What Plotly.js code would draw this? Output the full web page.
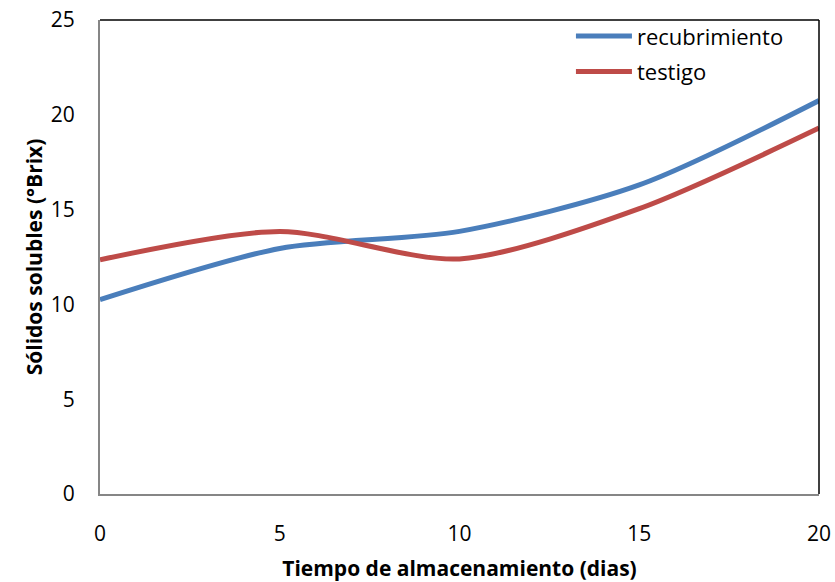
<!DOCTYPE html>
<html>
<head>
<meta charset="utf-8">
<script src="https://cdn.plot.ly/plotly-3.0.1.min.js"></script>
<style>html,body{margin:0;padding:0;background:#fff;}#chart{width:835px;height:582px;}</style>
</head>
<body>
<div id="chart"></div>
<script>
const days = [0, 5, 10, 15, 20];
const recubrimiento = [10.25, 12.95, 13.85, 16.3, 20.75];
const testigo = [12.35, 13.85, 12.4, 15.05, 19.3];
const xTicks = [0, 5, 10, 15, 20];
const yTicks = [0, 5, 10, 15, 20, 25];

const font = "Open Sans, Lato, sans-serif";

const traces = [
  {x: days, y: recubrimiento, name: 'recubrimiento', mode: 'lines',
   line: {color: '#4a7ebb', width: 5, shape: 'spline', smoothing: 0.8}, legend: 'legend'},
  {x: days, y: testigo, name: 'testigo', mode: 'lines',
   line: {color: '#be4b48', width: 5, shape: 'spline', smoothing: 0.8}, legend: 'legend2'}
];

const legendBase = {
  xanchor: 'left', yanchor: 'middle', bgcolor: 'rgba(0,0,0,0)',
  font: {family: font, size: 22, color: '#000'}, itemwidth: 56, tracegroupgap: 0
};

const layout = {
  width: 835, height: 582,
  margin: {l: 100, r: 16, t: 20, b: 88},
  paper_bgcolor: '#fff', plot_bgcolor: '#fff',
  showlegend: true,
  legend: Object.assign({}, legendBase, {x: 0.655, y: 0.966}),
  legend2: Object.assign({}, legendBase, {x: 0.655, y: 0.891}),
  xaxis: {
    range: [0, 20], tickvals: xTicks, ticktext: xTicks.map(String),
    showgrid: false, zeroline: false, showline: true, linecolor: '#868686', linewidth: 2,
    mirror: false, ticks: '', ticklabelstandoff: 20,
    tickfont: {family: font, size: 21, color: '#000'},
    title: {text: 'Tiempo de almacenamiento (dias)', font: {family: font, size: 21, color: '#000', weight: 'bold'}, standoff: 16}
  },
  yaxis: {
    range: [0, 25], tickvals: yTicks, ticktext: yTicks.map(String),
    showgrid: false, zeroline: false, showline: true, linecolor: '#868686', linewidth: 2,
    ticks: '', ticklabelstandoff: 19,
    tickfont: {family: font, size: 21, color: '#000'},
    title: {text: 'Sólidos solubles (°Brix)', font: {family: font, size: 21, color: '#000', weight: 'bold'}, standoff: 2}
  },
  shapes: [
    {type: 'line', xref: 'paper', yref: 'paper', x0: 0, x1: 1, y0: 1, y1: 1, line: {color: '#000', width: 1.5}},
    {type: 'line', xref: 'paper', yref: 'paper', x0: 1, x1: 1, y0: 0, y1: 1, line: {color: '#000', width: 1.5}}
  ]
};

Plotly.newPlot('chart', traces, layout, {displayModeBar: false, staticPlot: true});
</script>
</body>
</html>
